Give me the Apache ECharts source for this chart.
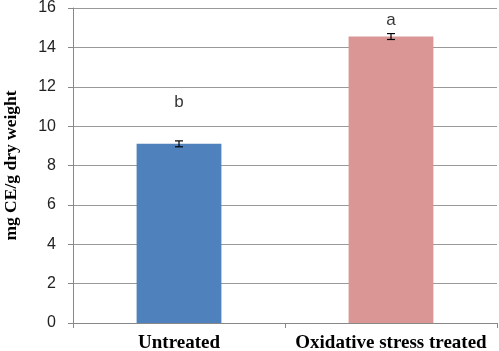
<!DOCTYPE html>
<html>
<head>
<meta charset="utf-8">
<script src="https://cdn.jsdelivr.net/npm/echarts@6/dist/echarts.min.js"></script>
<style>
  html, body { margin: 0; padding: 0; background: #fff; }
</style>
</head>
<body>
<div id="chart" style="width: 499px; height: 351px;"></div>
<script>
  var categories = ['Untreated', 'Oxidative stress treated']
  var values = [9.1, 14.55]
  var errors = [0.15, 0.15]
  var letters = ['b', 'a']
  var letterLevels = [11.2, 15.4]
  var barColors = ['#4f81bd', '#d99694']
  var yTicks = [0, 2, 4, 6, 8, 10, 12, 14, 16]

  var chart = echarts.init(document.getElementById('chart'))

  var errorData = values.map(function (v, i) {
    return [i, v - errors[i], v + errors[i]]
  })
  var letterData = letters.map(function (l, i) {
    return { value: [i, letterLevels[i]], label: { formatter: l } }
  })

  var option = {
    animation: false,
    grid: { left: 73, right: 2, top: 8, bottom: 28, containLabel: false, outerBoundsMode: 'none' },
    xAxis: {
      type: 'category',
      data: categories,
      axisLine: { lineStyle: { color: '#888', width: 1 } },
      axisTick: { show: true, length: 5, lineStyle: { color: '#888' } },
      axisLabel: {
        interval: 0,
        hideOverlap: false,
        margin: 11,
        fontFamily: 'Liberation Serif',
        fontWeight: 'bold',
        fontSize: 19,
        color: '#000'
      }
    },
    yAxis: {
      type: 'value',
      min: 0,
      max: 16,
      interval: 2,
      name: 'mg CE/g dry weight',
      nameLocation: 'middle',
      nameGap: 53,
      nameTextStyle: {
        fontFamily: 'Liberation Serif',
        fontWeight: 'bold',
        fontSize: 17.5,
        color: '#000'
      },
      axisLine: { show: true, lineStyle: { color: '#888', width: 1 } },
      axisTick: { show: true, length: 5, lineStyle: { color: '#888' } },
      axisLabel: {
        margin: 17,
        fontFamily: 'Liberation Sans',
        fontSize: 16,
        color: '#222',
        formatter: function (v) { return yTicks.indexOf(v) >= 0 ? String(v) : '' }
      },
      splitLine: { lineStyle: { color: '#999', width: 1 } }
    },
    series: [
      {
        type: 'bar',
        barWidth: '40%',
        data: values.map(function (v, i) {
          return { value: v, itemStyle: { color: barColors[i] } }
        })
      },
      {
        type: 'custom',
        data: errorData,
        z: 10,
        renderItem: function (params, api) {
          var x = api.value(0)
          var lo = api.coord([x, api.value(1)])
          var hi = api.coord([x, api.value(2)])
          var hw = 4
          var style = { stroke: '#000', lineWidth: 1.2 }
          return {
            type: 'group',
            children: [
              { type: 'line', shape: { x1: lo[0], y1: lo[1], x2: hi[0], y2: hi[1] }, style: style },
              { type: 'line', shape: { x1: lo[0] - hw, y1: lo[1], x2: lo[0] + hw, y2: lo[1] }, style: style },
              { type: 'line', shape: { x1: hi[0] - hw, y1: hi[1], x2: hi[0] + hw, y2: hi[1] }, style: style }
            ]
          }
        }
      },
      {
        type: 'scatter',
        symbolSize: 0,
        data: letterData,
        label: {
          show: true,
          position: 'inside',
          fontFamily: 'Liberation Sans',
          fontSize: 17,
          color: '#000'
        }
      }
    ]
  }

  chart.setOption(option)
</script>
</body>
</html>
